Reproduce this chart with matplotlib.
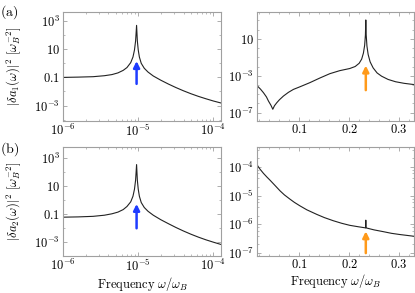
import numpy as np
import matplotlib
matplotlib.use("Agg")
import matplotlib.pyplot as plt
from matplotlib.ticker import FixedLocator, MultipleLocator, NullFormatter

plt.rcParams['mathtext.fontset'] = 'cm'
plt.rcParams['font.family'] = ['cmr10', 'DejaVu Serif']
plt.rcParams['axes.unicode_minus'] = False

# (a) left: log10 frequency vs log10 |da1|^2
a_left_logx = [-6.0, -5.8, -5.6, -5.45, -5.35, -5.27, -5.2, -5.15, -5.1, -5.07, -5.05, -5.035, -5.022,
               -5.012, -5.0, -4.985, -4.96, -4.92, -4.87, -4.8, -4.7, -4.6, -4.5, -4.4, -4.3, -4.2,
               -4.1, -4.0, -3.9]
a_left_logy = [-1.0, -0.98, -0.95, -0.88, -0.8, -0.68, -0.5, -0.3, 0.05, 0.45, 0.95, 1.6, 2.7,
               1.6, 0.95, 0.45, 0.0, -0.35, -0.62, -0.9, -1.2, -1.47, -1.72, -1.95, -2.16, -2.35,
               -2.52, -2.68, -2.82]

# (a) right: frequency vs log10 |da1|^2
a_right_x = [0.0147, 0.022, 0.028, 0.034, 0.038, 0.043, 0.0467, 0.05, 0.0547, 0.06, 0.068, 0.078,
             0.088, 0.101, 0.121, 0.141, 0.161, 0.181, 0.201, 0.212, 0.22, 0.225, 0.2285, 0.231,
             0.2325, 0.2333, 0.2341, 0.2356, 0.238, 0.242, 0.248, 0.256, 0.265, 0.278, 0.293,
             0.31, 0.329]
a_right_logy = [-4.05, -4.45, -4.84, -5.3, -5.74, -6.2, -6.63, -6.25, -5.92, -5.6, -5.2, -4.8,
                -4.48, -4.2, -3.75, -3.25, -2.78, -2.45, -2.22, -2.0, -1.65, -1.2, -0.55, 0.3,
                1.4, 3.04, 1.4, 0.2, -0.7, -1.5, -2.15, -2.7, -3.05, -3.4, -3.65, -3.82, -3.95]

# (b) left
b_left_logx = [-6.0, -5.8, -5.6, -5.45, -5.35, -5.27, -5.2, -5.15, -5.1, -5.07, -5.05, -5.035, -5.022,
               -5.012, -5.0, -4.985, -4.96, -4.92, -4.87, -4.8, -4.7, -4.6, -4.5, -4.4, -4.3, -4.2,
               -4.1, -4.0, -3.9]
b_left_logy = [-1.24, -1.22, -1.18, -1.1, -1.0, -0.88, -0.7, -0.48, -0.15, 0.25, 0.75, 1.4, 2.5,
               1.4, 0.75, 0.25, -0.2, -0.55, -0.82, -1.1, -1.42, -1.7, -1.97, -2.22, -2.45, -2.66,
               -2.85, -3.02, -3.18]

# (b) right
b_right_x = [0.0147, 0.02, 0.028, 0.035, 0.0413, 0.05, 0.0613, 0.07, 0.0813, 0.09, 0.101, 0.115,
             0.135, 0.15, 0.168, 0.185, 0.201, 0.218, 0.2328, 0.2333, 0.2338, 0.25, 0.268, 0.285,
             0.301, 0.315, 0.329]
b_right_logy = [-3.91, -4.05, -4.22, -4.35, -4.46, -4.62, -4.83, -4.97, -5.12, -5.23, -5.35, -5.49,
                -5.65, -5.76, -5.87, -5.96, -6.03, -6.08, -6.12, -5.85, -6.12, -6.19, -6.25, -6.31,
                -6.35, -6.38, -6.41]

# arrows: (x, y_tail, y_head)
arrow_a_left = (10**-5.022, 10**-1.46, 10**0.16)
arrow_b_left = (10**-5.022, 10**-2.03, 10**-0.30)
arrow_a_right = (0.2333, 10**-4.56, 10**-1.9)
arrow_b_right = (0.2333, 10**-7.0, 10**-6.24)

blue = '#1e3cff'
orange = '#ff9a1a'
frame = '#a0a0a0'

fig = plt.figure(figsize=(4.15, 2.93), dpi=100)
L0, L1 = 63 / 415, 221 / 415
R0, R1 = 257 / 415, 414 / 415
T_top, T_bot = 1 - 12 / 293, 1 - 121 / 293
B_top, B_bot = 1 - 147 / 293, 1 - 256 / 293

ax1 = fig.add_axes([L0, T_bot, L1 - L0, T_top - T_bot])
ax2 = fig.add_axes([R0, T_bot, R1 - R0, T_top - T_bot])
ax3 = fig.add_axes([L0, B_bot, L1 - L0, B_top - B_bot])
ax4 = fig.add_axes([R0, B_bot, R1 - R0, B_top - B_bot])


def style(ax):
    for s in ax.spines.values():
        s.set_color(frame)
        s.set_linewidth(0.8)
    ax.tick_params(which='both', direction='in', top=True, right=True, color=frame,
                   labelsize=9, pad=2)
    ax.tick_params(axis='x', which='both', pad=1.5)
    ax.tick_params(which='major', length=3, width=0.6)
    ax.tick_params(which='minor', length=1.6, width=0.5)


def arrow(ax, spec, col):
    x, y0, y1 = spec
    ax.annotate('', xy=(x, y1), xytext=(x, y0),
                arrowprops=dict(arrowstyle='-|>', color=col, lw=1.8, mutation_scale=9,
                                shrinkA=0, shrinkB=0))


# left panels
for ax, lx, ly, ylim in [(ax1, a_left_logx, a_left_logy, (10**-4.1, 10**3.65)),
                         (ax3, b_left_logx, b_left_logy, (10**-4.0, 10**3.75))]:
    ax.plot(10**np.array(lx), 10**np.array(ly), color='#222222', lw=0.8)
    ax.set_xscale('log')
    ax.set_yscale('log')
    ax.set_xlim(1e-6, 10**-3.9)
    ax.set_ylim(*ylim)
    ax.xaxis.set_major_locator(FixedLocator([1e-6, 1e-5, 1e-4]))
    ax.set_xticklabels([r'$10^{-6}$', r'$10^{-5}$', r'$10^{-4}$'])
    xm = [m * 10.0**e for e in (-6, -5) for m in range(2, 10)]
    ax.xaxis.set_minor_locator(FixedLocator(xm))
    ax.xaxis.set_minor_formatter(NullFormatter())
    ax.yaxis.set_major_locator(FixedLocator([1e-3, 1e-1, 1e1, 1e3]))
    ax.set_yticklabels([r'$10^{-3}$', r'$0.1$', r'$10$', r'$10^{3}$'])
    ax.yaxis.set_minor_locator(FixedLocator([10.0**e for e in range(-4, 4)]))
    ax.yaxis.set_minor_formatter(NullFormatter())
    style(ax)

arrow(ax1, arrow_a_left, blue)
arrow(ax3, arrow_b_left, blue)

ax1.set_ylabel(r'$|\delta a_1(\omega)|^2\ [\omega_B^{-2}]$', fontsize=9)
ax3.set_ylabel(r'$|\delta a_2(\omega)|^2\ [\omega_B^{-2}]$', fontsize=9)
for ax in (ax1, ax3):
    ax.yaxis.set_label_coords(-0.255, 0.5)
ax3.set_xlabel(r'$\mathrm{Frequency}\ \omega/\omega_B$', fontsize=9, labelpad=0.5)
ax4.set_xlabel(r'$\mathrm{Frequency}\ \omega/\omega_B$', fontsize=9, labelpad=0.5)

# right panels
ax2.plot(a_right_x, 10**np.array(a_right_logy), color='#222222', lw=0.8)
ax2.set_yscale('log')
ax2.set_xlim(0.015, 0.33)
ax2.set_ylim(10**-7.9, 10**3.9)
ax2.yaxis.set_major_locator(FixedLocator([1e-7, 1e-3, 1e1]))
ax2.set_yticklabels([r'$10^{-7}$', r'$10^{-3}$', r'$10$'])
ax2.yaxis.set_minor_locator(FixedLocator([10.0**e for e in range(-8, 4)]))
ax2.yaxis.set_minor_formatter(NullFormatter())

ax4.plot(b_right_x, 10**np.array(b_right_logy), color='#222222', lw=0.8)
ax4.set_yscale('log')
ax4.set_xlim(0.015, 0.33)
ax4.set_ylim(10**-7.1, 10**-3.3)
ax4.yaxis.set_major_locator(FixedLocator([1e-7, 1e-6, 1e-5, 1e-4]))
ax4.set_yticklabels([r'$10^{-7}$', r'$10^{-6}$', r'$10^{-5}$', r'$10^{-4}$'])
ym = [m * 10.0**e for e in (-8, -7, -6, -5, -4) for m in (2, 4, 6, 8)]
ax4.yaxis.set_minor_locator(FixedLocator(ym))
ax4.yaxis.set_minor_formatter(NullFormatter())

for ax in (ax2, ax4):
    ax.xaxis.set_major_locator(FixedLocator([0.1, 0.2, 0.3]))
    ax.set_xticklabels([r'$0.1$', r'$0.2$', r'$0.3$'])
    ax.xaxis.set_minor_locator(MultipleLocator(0.02))
    style(ax)

arrow(ax2, arrow_a_right, orange)
arrow(ax4, arrow_b_right, orange)

fig.text(0.0, 0.99, r'$\mathrm{(a)}$', fontsize=10, va='top', ha='left')
fig.text(0.0, 0.52, r'$\mathrm{(b)}$', fontsize=10, va='top', ha='left')

fig.savefig('out.png', dpi=100)
